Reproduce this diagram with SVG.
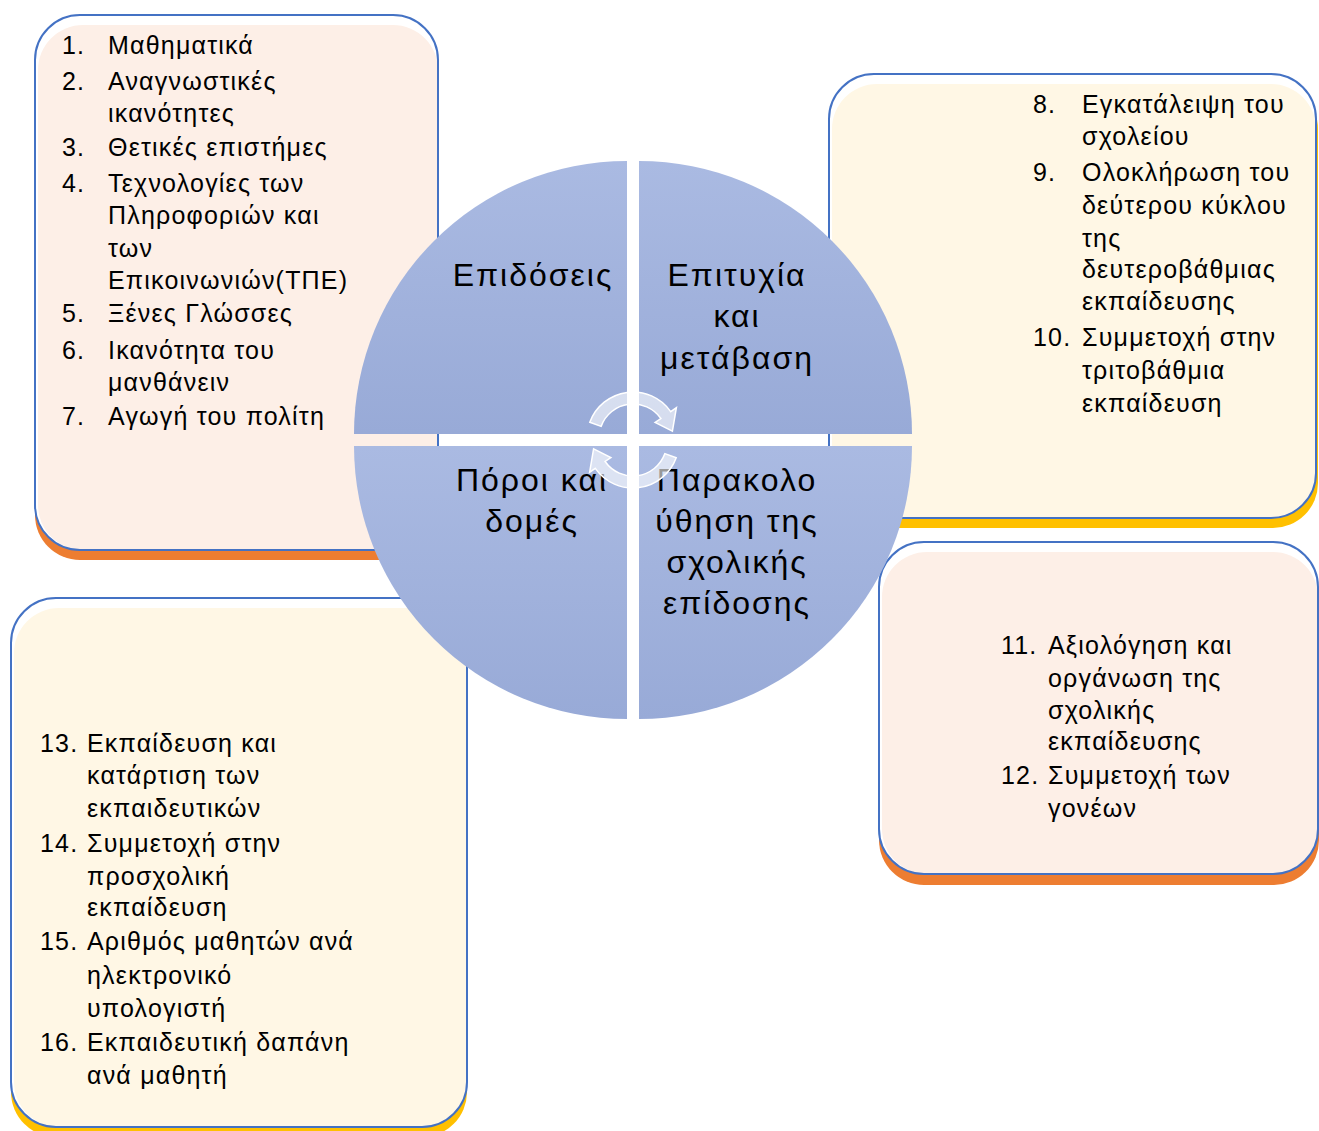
<svg xmlns="http://www.w3.org/2000/svg" width="1319" height="1131" viewBox="0 0 1319 1131">
<defs>
<linearGradient id="qg" x1="0" y1="0" x2="0" y2="1">
<stop offset="0" stop-color="#AABAE2"/>
<stop offset="1" stop-color="#98AAD7"/>
</linearGradient>
</defs>
<style>
.t{font-family:"Liberation Sans",Arial,sans-serif;font-size:25px;letter-spacing:1.2px;fill:#000}
.q{font-family:"Liberation Sans",Arial,sans-serif;font-size:32px;letter-spacing:2px;fill:#000;text-anchor:middle}
.bd{fill:none;stroke:#4472C4;stroke-width:2}
.wh{fill:#fff}
.pe{fill:#FDEFE7}
.cr{fill:#FFF7E5}
.or{fill:#ED7D31}
.go{fill:#FFC000}
.quad{fill:url(#qg)}
.arr{fill:#fff;fill-opacity:0.6;stroke:#fff;stroke-width:1.5}
</style>
<rect width="1319" height="1131" fill="#fff"/>

<g id="box-top-left">
<rect class="or" x="35" y="25" width="403" height="535" rx="45"/>
<rect class="wh" x="35" y="15" width="403" height="535" rx="45"/>
<rect class="pe" x="38" y="25" width="400" height="525" rx="45"/>
<rect class="bd" x="35" y="15" width="403" height="535" rx="45"/>
<text class="t" x="62" y="54">1.</text><text class="t" x="108" y="54">Μαθηματικά</text>
<text class="t" x="62" y="90">2.</text><text class="t" x="108" y="90">Αναγνωστικές</text>
<text class="t" x="108" y="122">ικανότητες</text>
<text class="t" x="62" y="156">3.</text><text class="t" x="108" y="156">Θετικές επιστήμες</text>
<text class="t" x="62" y="192">4.</text><text class="t" x="108" y="192">Τεχνολογίες των</text>
<text class="t" x="108" y="224">Πληροφοριών και</text>
<text class="t" x="108" y="257">των</text>
<text class="t" x="108" y="289">Επικοινωνιών(ΤΠΕ)</text>
<text class="t" x="62" y="322">5.</text><text class="t" x="108" y="322">Ξένες Γλώσσες</text>
<text class="t" x="62" y="359">6.</text><text class="t" x="108" y="359">Ικανότητα του</text>
<text class="t" x="108" y="391">μανθάνειν</text>
<text class="t" x="62" y="425">7.</text><text class="t" x="108" y="425">Αγωγή του πολίτη</text>
</g>

<g id="box-top-right">
<rect class="go" x="831" y="84" width="487" height="444" rx="45"/>
<rect class="wh" x="829" y="74" width="487" height="444" rx="45"/>
<rect class="cr" x="832" y="84" width="484" height="434" rx="45"/>
<rect class="bd" x="829" y="74" width="487" height="444" rx="45"/>
<text class="t" x="1033" y="113">8.</text><text class="t" x="1082" y="113">Εγκατάλειψη του</text>
<text class="t" x="1082" y="145">σχολείου</text>
<text class="t" x="1033" y="181">9.</text><text class="t" x="1082" y="181">Ολοκλήρωση του</text>
<text class="t" x="1082" y="214">δεύτερου κύκλου</text>
<text class="t" x="1082" y="247">της</text>
<text class="t" x="1082" y="278">δευτεροβάθμιας</text>
<text class="t" x="1082" y="310">εκπαίδευσης</text>
<text class="t" x="1033" y="346">10.</text><text class="t" x="1082" y="346">Συμμετοχή στην</text>
<text class="t" x="1082" y="379">τριτοβάθμια</text>
<text class="t" x="1082" y="412">εκπαίδευση</text>
</g>

<g id="box-bottom-right">
<rect class="or" x="879" y="552" width="440" height="333" rx="45"/>
<rect class="wh" x="879" y="542" width="439" height="332" rx="45"/>
<rect class="pe" x="882" y="552" width="436" height="322" rx="45"/>
<rect class="bd" x="879" y="542" width="439" height="332" rx="45"/>
<text class="t" x="1001" y="654">11.</text><text class="t" x="1048" y="654">Αξιολόγηση και</text>
<text class="t" x="1048" y="687">οργάνωση της</text>
<text class="t" x="1048" y="719">σχολικής</text>
<text class="t" x="1048" y="750">εκπαίδευσης</text>
<text class="t" x="1001" y="784">12.</text><text class="t" x="1048" y="784">Συμμετοχή των</text>
<text class="t" x="1048" y="817">γονέων</text>
</g>

<g id="box-bottom-left">
<rect class="go" x="11" y="608" width="456" height="529" rx="45"/>
<rect class="wh" x="11" y="598" width="456" height="529" rx="45"/>
<rect class="cr" x="14" y="608" width="453" height="519" rx="45"/>
<rect class="bd" x="11" y="598" width="456" height="529" rx="45"/>
<text class="t" x="40" y="752">13.</text><text class="t" x="87" y="752">Εκπαίδευση και</text>
<text class="t" x="87" y="784">κατάρτιση των</text>
<text class="t" x="87" y="817">εκπαιδευτικών</text>
<text class="t" x="40" y="852">14.</text><text class="t" x="87" y="852">Συμμετοχή στην</text>
<text class="t" x="87" y="885">προσχολική</text>
<text class="t" x="87" y="916">εκπαίδευση</text>
<text class="t" x="40" y="950">15.</text><text class="t" x="87" y="950">Αριθμός μαθητών ανά</text>
<text class="t" x="87" y="984">ηλεκτρονικό</text>
<text class="t" x="87" y="1017">υπολογιστή</text>
<text class="t" x="40" y="1051">16.</text><text class="t" x="87" y="1051">Εκπαιδευτική δαπάνη</text>
<text class="t" x="87" y="1084">ανά μαθητή</text>
</g>

<g id="cycle">
<g id="q-epidoseis">
<path class="quad" d="M627,434 L354,434 A273,273 0 0 1 627,161 Z"/>
<text class="q" x="533" y="286">Επιδόσεις</text>
</g>
<g id="q-epityxia">
<path class="quad" d="M639,434 L639,161 A273,273 0 0 1 912,434 Z"/>
<text class="q" x="737" y="286">Επιτυχία</text>
<text class="q" x="737" y="327">και</text>
<text class="q" x="737" y="369">μετάβαση</text>
</g>
<g id="q-poroi">
<path class="quad" d="M627,446 L627,719 A273,273 0 0 1 354,446 Z"/>
<text class="q" x="532" y="491">Πόροι και</text>
<text class="q" x="532" y="532">δομές</text>
</g>
<g id="q-parakolouthisi">
<path class="quad" d="M639,446 L912,446 A273,273 0 0 1 639,719 Z"/>
<text class="q" x="737" y="491">Παρακολο</text>
<text class="q" x="737" y="532">ύθηση της</text>
<text class="q" x="737" y="573">σχολικής</text>
<text class="q" x="737" y="614">επίδοσης</text>
</g>
</g>

<g id="connectors">
<path id="arrow-top" class="arr" d="M589.8,422.3 A46,46 0 0 1 670.7,411.6 L676.4,407.6 L672.4,431.1 L655.1,422.5 L660.9,418.5 A34,34 0 0 0 601.1,426.4 Z"/>
<path id="arrow-bottom" class="arr" transform="rotate(180 633 440)" d="M589.8,422.3 A46,46 0 0 1 670.7,411.6 L676.4,407.6 L672.4,431.1 L655.1,422.5 L660.9,418.5 A34,34 0 0 0 601.1,426.4 Z"/>
</g>
</svg>
